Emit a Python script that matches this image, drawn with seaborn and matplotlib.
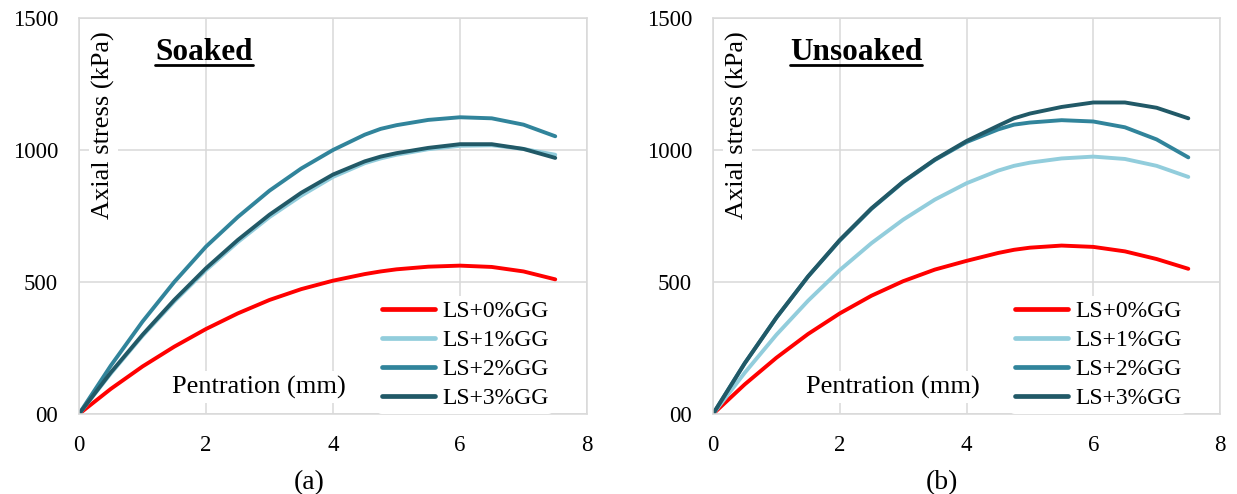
import numpy as np
import pandas as pd
import matplotlib
matplotlib.use("Agg")
import matplotlib.pyplot as plt
import seaborn as sns
from matplotlib.lines import Line2D

# Penetration readings (mm)
penetration = [0, 0.5, 1, 1.5, 2, 2.5, 3, 3.5, 4, 4.5, 4.75, 5, 5.5, 6, 6.5, 7, 7.5]
mixes = ["LS+0%GG", "LS+1%GG", "LS+2%GG", "LS+3%GG"]

# Axial stress (kPa) — soaked specimens
soaked_0 = [0, 95, 180, 255, 322, 381, 432, 473, 505, 530, 540, 548, 558, 562, 557, 540, 510]
soaked_1 = [0, 153, 296, 426, 545, 651, 746, 827, 898, 950, 968, 982, 1003, 1016, 1018, 1004, 982]
soaked_2 = [0, 183, 350, 500, 634, 746, 846, 930, 1000, 1058, 1080, 1094, 1114, 1124, 1120, 1096, 1052]
soaked_3 = [0, 157, 300, 432, 552, 659, 755, 838, 907, 957, 975, 988, 1008, 1022, 1022, 1004, 970]

# Axial stress (kPa) — unsoaked specimens
unsoaked_0 = [0, 112, 213, 303, 381, 448, 503, 547, 580, 610, 622, 630, 638, 633, 616, 587, 550]
unsoaked_1 = [0, 156, 300, 429, 545, 647, 736, 812, 874, 922, 940, 952, 968, 975, 966, 940, 898]
unsoaked_2 = [0, 192, 365, 521, 657, 777, 878, 962, 1030, 1078, 1096, 1104, 1113, 1108, 1086, 1040, 972]
unsoaked_3 = [0, 192, 365, 521, 659, 779, 880, 964, 1034, 1092, 1120, 1138, 1163, 1180, 1180, 1160, 1120]

x_ticks = [0, 2, 4, 6, 8]
y_ticks = [0, 500, 1000, 1500]
y_tick_labels = ["00", "500", "1000", "1500"]

palette = ["#FF0000", "#92CDDC", "#31849B", "#215967"]
grid_color = "#D9D9D9"


def long_frame(series):
    rows = []
    for mix, values in zip(mixes, series):
        for p, s in zip(penetration, values):
            rows.append({"Penetration": p, "Stress": s, "Mix": mix})
    return pd.DataFrame(rows)


panels = [
    ("Soaked", [soaked_0, soaked_1, soaked_2, soaked_3], "(a)", 1.97, 309),
    ("Unsoaked", [unsoaked_0, unsoaked_1, unsoaked_2, unsoaked_3], "(b)", 2.26, 942),
]

sns.set_theme(style="white")
plt.rcParams["font.family"] = ["Liberation Serif", "DejaVu Serif"]
plt.rcParams["text.color"] = "black"
plt.rcParams["axes.labelcolor"] = "black"
plt.rcParams["xtick.color"] = "black"
plt.rcParams["ytick.color"] = "black"

W, H = 1237, 494
fig = plt.figure(figsize=(W / 100, H / 100), dpi=100)
fig.patch.set_facecolor("white")

axes_px = [(79, 587), (713, 1220)]
top_px, bottom_px = 18, 414

titles = []
for (left, right), (title, series, tag, title_x, tag_x) in zip(axes_px, panels):
    ax = fig.add_axes([left / W, 1 - bottom_px / H, (right - left) / W,
                       (bottom_px - top_px) / H])
    df = long_frame(series)
    sns.lineplot(data=df, x="Penetration", y="Stress", hue="Mix",
                 hue_order=mixes, palette=palette, linewidth=2.8, ax=ax,
                 legend=True, sort=False)
    ax.set_xlim(0, 8)
    ax.set_ylim(0, 1500)
    ax.set_xticks(x_ticks)
    ax.set_yticks(y_ticks)
    ax.set_yticklabels(y_tick_labels)
    ax.tick_params(axis="both", length=0, labelsize=16.5, colors="black")
    ax.tick_params(axis="y", pad=15)
    ax.tick_params(axis="x", pad=15)
    ax.grid(True, color=grid_color, linewidth=1.1)
    ax.set_axisbelow(True)
    for sp in ax.spines.values():
        sp.set_color(grid_color)
        sp.set_linewidth(1.1)
    ax.set_xlabel("")
    ax.set_ylabel("")
    for ln in ax.lines:
        ln.set_solid_capstyle("round")
        ln.set_solid_joinstyle("round")

    ax.text(0.39, 1095, "Axial stress (kPa)", rotation=90, ha="center",
            va="center", fontsize=19, color="black",
            bbox=dict(facecolor="white", edgecolor="none", pad=2))
    ax.text(2.84, 102, "Pentration (mm)", ha="center", va="center",
            fontsize=19, color="black",
            bbox=dict(facecolor="white", edgecolor="none", pad=3))
    t = ax.text(title_x, 1371, title, ha="center", va="center",
                fontsize=22.5, fontweight="bold", color="black")
    titles.append(t)

    leg = ax.legend(loc="center", bbox_to_anchor=(0.76, 0.149), frameon=True,
                    fontsize=17, handlelength=2.25, handletextpad=0.3,
                    labelspacing=0.32, borderpad=0.2)
    leg.get_frame().set_facecolor("white")
    leg.get_frame().set_edgecolor("none")
    leg.get_frame().set_alpha(1)
    for txt in leg.get_texts():
        txt.set_color("black")
    for h in leg.get_lines():
        h.set_linewidth(3.4)

    fig.text(tag_x / W, 1 - 483 / H, tag, ha="center", va="center",
             fontsize=20, color="black")

# Underline the panel titles
fig.canvas.draw()
renderer = fig.canvas.get_renderer()
for t in titles:
    bb = t.get_window_extent(renderer)
    y = bb.y0 + 2
    fig.add_artist(Line2D([bb.x0 / W, bb.x1 / W], [y / H, y / H],
                          color="black", linewidth=2.0,
                          transform=fig.transFigure))

fig.savefig("out.png", dpi=100, facecolor="white")
